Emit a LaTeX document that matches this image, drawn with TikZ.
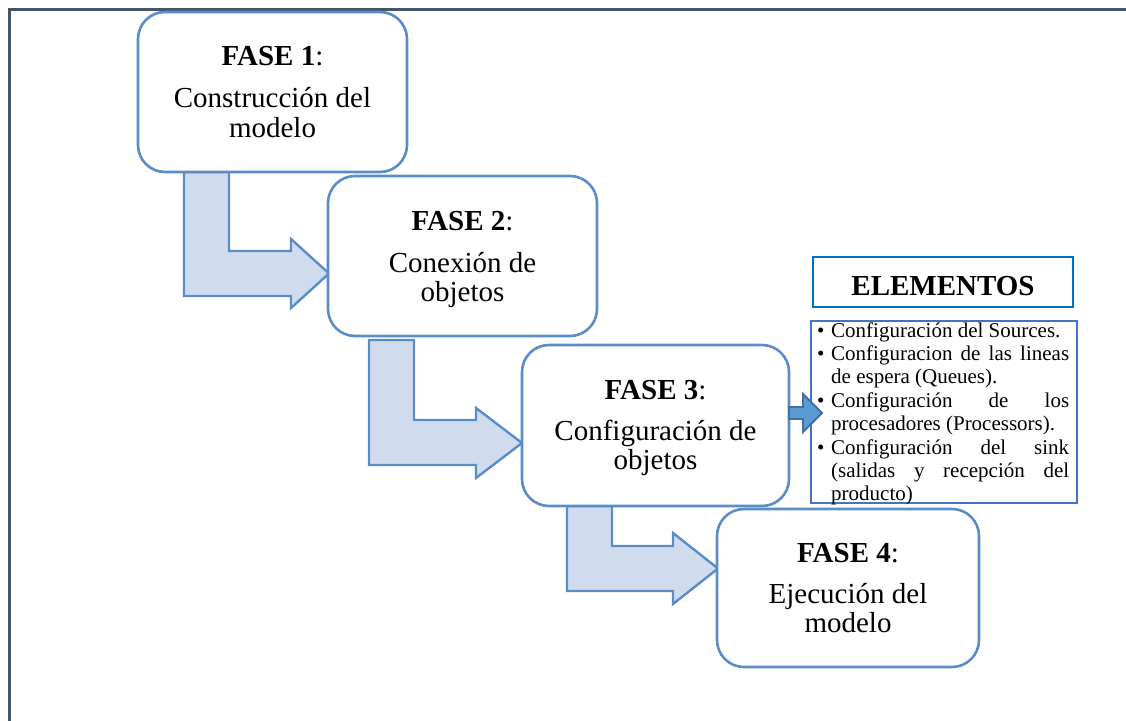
\documentclass[tikz,border=0pt]{standalone}
\usepackage{fontspec}
\setmainfont{Liberation Serif}

\definecolor{framecol}{HTML}{44546A}
\definecolor{boxline}{HTML}{5A8DC8}
\definecolor{arrowfill}{HTML}{D0DCEE}
\definecolor{smallfill}{HTML}{5B9BD5}
\definecolor{smallline}{HTML}{41719C}
\definecolor{titleline}{HTML}{0070C0}
\definecolor{listline}{HTML}{4472C4}

\begin{document}
\begin{tikzpicture}[x=1pt,y=-1pt,
  phase/.style={draw=boxline, line width=2.6pt, fill=white, rounded corners=27pt, inner sep=0pt},
  bent/.style={draw=boxline, line width=2.4pt, fill=arrowfill, line join=miter},
  pointer/.style={draw=smallline, line width=1.8pt, fill=smallfill, line join=miter},
  big/.style={font=\fontsize{29}{30}\selectfont, anchor=base, inner sep=0pt},
  item/.style={font=\fontsize{21}{23}\selectfont, anchor=base west, inner sep=0pt},
  titlebox/.style={draw=titleline, line width=2.4pt, fill=white, inner sep=0pt, minimum width=260pt, minimum height=50pt},
  listbox/.style={draw=listline, line width=2.4pt, fill=white, inner sep=0pt, minimum width=266pt, minimum height=182pt},
]
\useasboundingbox (0,0) rectangle (1126,720);

% outer frame (top and left edges)
\draw[framecol, line width=3pt] (9,724) -- (9,9) -- (1130,9);

% bent arrows between the phases
\draw[bent] (184,172) -- (229,172) -- (229,251) -- (291,251) -- (291,239)
  -- (329,273.5) -- (291,308) -- (291,296) -- (184,296) -- cycle;
\draw[bent] (369,340) -- (414,340) -- (414,420) -- (476,420) -- (476,408)
  -- (522,443) -- (476,478) -- (476,465) -- (369,465) -- cycle;
\draw[bent] (567,506) -- (612,506) -- (612,546) -- (673,546) -- (673,533)
  -- (718,568.5) -- (673,604) -- (673,591) -- (567,591) -- cycle;

% phase boxes
\node[phase, minimum width=269pt, minimum height=160pt] (f1) at (272.5,92) {};
\node[phase, minimum width=269pt, minimum height=160pt] (f2) at (462.5,256) {};
\node[phase, minimum width=267pt, minimum height=161pt] (f3) at (655.5,425.5) {};
\node[phase, minimum width=262pt, minimum height=158pt] (f4) at (848,588) {};

\node[big] (f1a) at (272.5,65) {\textbf{FASE 1}:};
\node[big] (f1b) at (272.5,107) {Construcción del};
\node[big] (f1c) at (272.5,137) {modelo};

\node[big] (f2a) at (462.5,230) {\textbf{FASE 2}:};
\node[big] (f2b) at (462.5,272) {Conexión de};
\node[big] (f2c) at (462.5,301) {objetos};

\node[big] (f3a) at (655.5,399) {\textbf{FASE 3}:};
\node[big] (f3b) at (655.5,440) {Configuración de};
\node[big] (f3c) at (655.5,469) {objetos};

\node[big] (f4a) at (848,562) {\textbf{FASE 4}:};
\node[big] (f4b) at (848,603) {Ejecución del};
\node[big] (f4c) at (848,632) {modelo};

% elements title and list
\node[titlebox] (elem) at (943,282) {};
\node[big] (elemtxt) at (943,295) {\textbf{ELEMENTOS}};

\node[listbox] (lst) at (944,412) {};
\node[item] (b1) at (817,337) {•};
\node[item] (l1) at (831,337) {Configuración del Sources.};
\node[item] (b2) at (817,360.4) {•};
\node[item] (l2) at (831,360.4) {\makebox[238pt][s]{Configuracion de las lineas}};
\node[item] (l3) at (831,383.8) {de espera (Queues).};
\node[item] (b3) at (817,407.2) {•};
\node[item] (l4) at (831,407.2) {\makebox[238pt][s]{Configuración de los}};
\node[item] (l5) at (831,430.6) {procesadores (Processors).};
\node[item] (b4) at (817,454) {•};
\node[item] (l6) at (831,454) {\makebox[238pt][s]{Configuración del sink}};
\node[item] (l7) at (831,477.4) {\makebox[238pt][s]{(salidas y recepción del}};
\node[item] (l8) at (831,500.8) {producto)};

% small pointer from phase 3 into the list of elements
\draw[pointer] (789,407) -- (803,407) -- (803,394) -- (822,413) -- (803,432)
  -- (803,419) -- (789,419) -- cycle;
\end{tikzpicture}
\end{document}
